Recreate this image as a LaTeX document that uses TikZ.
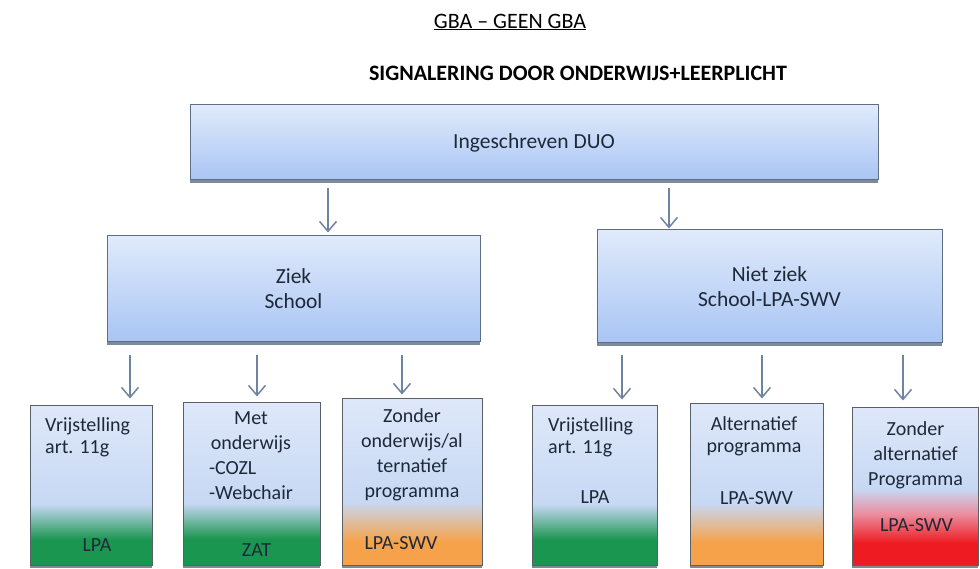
\documentclass[tikz,border=0pt]{standalone}
\usepackage{fontspec}
\setmainfont{Carlito}
\usepackage{tikz}
\usetikzlibrary{arrows.meta,shadows,positioning}

\definecolor{boxtop}{HTML}{E0EAFB}
\definecolor{boxbot}{HTML}{A9C5F4}
\definecolor{boxline}{HTML}{5E6E84}
\definecolor{lowline}{HTML}{5A6068}
\definecolor{shadowgrey}{HTML}{7E8A97}
\definecolor{textnavy}{HTML}{1E2938}
\definecolor{arrowgrey}{HTML}{6E84A0}
\definecolor{fadetop}{HTML}{DEE8F9}
\definecolor{fadepale}{HTML}{C7D8F4}
\definecolor{fadegreen}{HTML}{1B9650}
\definecolor{fadeorange}{HTML}{F6A24A}
\definecolor{fadepink}{HTML}{EB8C9C}
\definecolor{fadered}{HTML}{EE1C22}

\pgfdeclareverticalshading{greenfade}{100bp}{color(0bp)=(fadegreen); color(33bp)=(fadegreen); color(44bp)=(fadepale); color(75bp)=(fadetop); color(100bp)=(fadetop)}
\pgfdeclareverticalshading{orangefade}{100bp}{color(0bp)=(fadeorange); color(32bp)=(fadeorange); color(44bp)=(fadepale); color(75bp)=(fadetop); color(100bp)=(fadetop)}
\pgfdeclareverticalshading{redfade}{100bp}{color(0bp)=(fadered); color(32bp)=(fadered); color(41bp)=(fadepink); color(49bp)=(fadepale); color(75bp)=(fadetop); color(100bp)=(fadetop)}

\begin{document}
\begin{tikzpicture}
	[x=1pt, y=-1pt,
	 flat/.style={drop shadow={shadow xshift=0pt, shadow yshift=-3pt, fill=shadowgrey, opacity=1}},
	 bluebox/.style={flat, draw=boxline, line width=1pt, top color=boxtop, bottom color=boxbot, font=\fontsize{21.5}{25}\selectfont, text=textnavy, align=center},
	 lowbox/.style={flat, draw=lowline, line width=1pt, shade},
	 boxtext/.style={font=\fontsize{20}{25}\selectfont, text=textnavy, inner sep=0pt},
	 tighttext/.style={boxtext, font=\fontsize{20}{22}\selectfont},
	 arr/.style={draw=arrowgrey, line width=1.5pt, -{Straight Barb[length=10pt,width=17pt]}},]
	\useasboundingbox (0,0) rectangle (980,569);
	\fill[white] (0,0) rectangle (980,569);

	\node[font=\fontsize{22}{26}\selectfont] (title) at (510,22) {\underline{GBA – GEEN GBA}};
	\node[font=\bfseries\fontsize{22}{26}\selectfont] (signal) at (578,73) {SIGNALERING DOOR ONDERWIJS+LEERPLICHT};

	\node[bluebox, minimum width=688pt, minimum height=75pt] (duo) at (534,142.5) {Ingeschreven DUO};
	\node[bluebox, minimum width=373pt, minimum height=106pt] (ziek) at (293.5,289) {Ziek\\School};
	\node[bluebox, minimum width=345pt, minimum height=113pt] (nietziek) at (769.5,286.5) {Niet ziek\\School-LPA-SWV};

	\node[lowbox, shading=greenfade, minimum width=122pt, minimum height=160pt] (b1) at (91,485) {};
	\node[lowbox, shading=greenfade, minimum width=137pt, minimum height=163pt] (b2) at (251.5,483.5) {};
	\node[lowbox, shading=orangefade, minimum width=140pt, minimum height=167pt] (b3) at (412,481.5) {};
	\node[lowbox, shading=greenfade, minimum width=125pt, minimum height=160pt] (b4) at (594.5,485) {};
	\node[lowbox, shading=orangefade, minimum width=133pt, minimum height=162pt] (b5) at (756.5,484) {};
	\node[lowbox, shading=redfade, minimum width=126pt, minimum height=158pt] (b6) at (915,486) {};

	\node[tighttext, anchor=west, align=left] (b1t) at (45,437.5) {Vrijstelling\\art. 11g};
	\node[boxtext] (b1l) at (97,545) {LPA};
	\node[boxtext, align=center] (b2t) at (251,456) {Met\\onderwijs\\\rlap{-COZL}\phantom{-Webchair}\\-Webchair};
	\node[boxtext] (b2l) at (256.5,550) {ZAT};
	\node[boxtext, align=center] (b3t) at (412,454.5) {Zonder\\onderwijs/al\\ternatief\\programma};
	\node[boxtext] (b3l) at (401,543) {LPA-SWV};
	\node[tighttext, anchor=west, align=left] (b4t) at (548,437.5) {Vrijstelling\\art. 11g};
	\node[boxtext] (b4l) at (595,497) {LPA};
	\node[tighttext, align=center] (b5t) at (754,436) {Alternatief\\programma};
	\node[boxtext] (b5l) at (756.5,498) {LPA-SWV};
	\node[boxtext, align=center] (b6t) at (915.5,455) {Zonder\\alternatief\\Programma};
	\node[boxtext] (b6l) at (916.5,525) {LPA-SWV};

	\coordinate (ax1) at (328,0);
	\coordinate (ax2) at (669,0);
	\coordinate (ax3) at (130,0);
	\coordinate (ax4) at (257,0);
	\coordinate (ax5) at (402,0);
	\coordinate (ax6) at (622,0);
	\coordinate (ax7) at (762,0);
	\coordinate (ax8) at (903,0);

	\draw[arr, shorten <=8pt, shorten >=3pt] (duo.south -| ax1) -- (ziek.north -| ax1);
	\draw[arr, shorten <=8pt, shorten >=1pt] (duo.south -| ax2) -- (nietziek.north -| ax2);
	\draw[arr, shorten <=12pt, shorten >=6pt] (ziek.south -| ax3) -- (b1.north -| ax3);
	\draw[arr, shorten <=12pt, shorten >=5pt] (ziek.south -| ax4) -- (b2.north -| ax4);
	\draw[arr, shorten <=12pt, shorten >=3pt] (ziek.south -| ax5) -- (b3.north -| ax5);
	\draw[arr, shorten <=11pt, shorten >=5pt] (nietziek.south -| ax6) -- (b4.north -| ax6);
	\draw[arr, shorten <=11pt, shorten >=4pt] (nietziek.south -| ax7) -- (b5.north -| ax7);
	\draw[arr, shorten <=11pt, shorten >=6pt] (nietziek.south -| ax8) -- (b6.north -| ax8);
\end{tikzpicture}
\end{document}
